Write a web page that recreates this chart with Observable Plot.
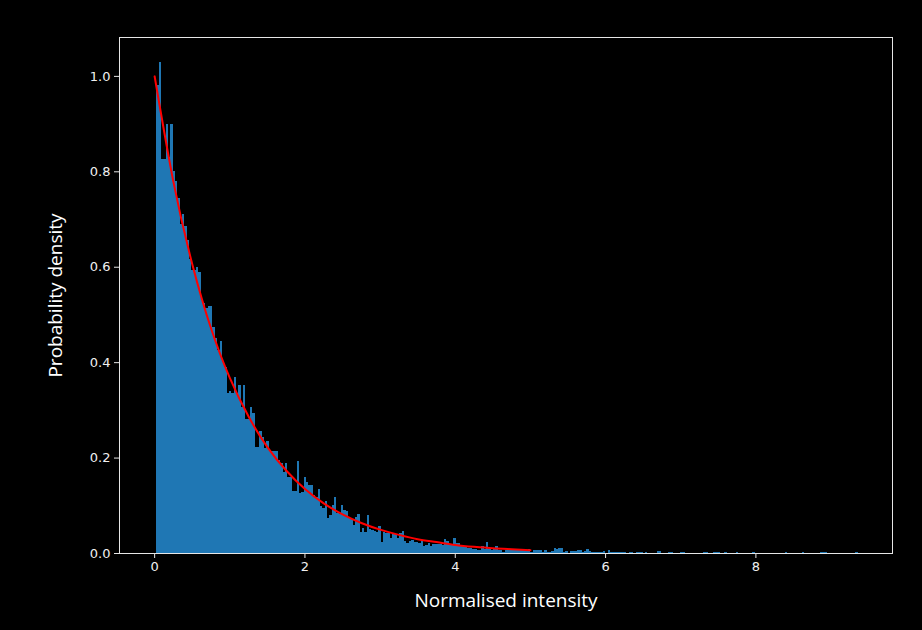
<!DOCTYPE html>
<html>
<head>
<meta charset="utf-8">
<script src="https://cdn.jsdelivr.net/npm/d3@7"></script>
<script src="https://cdn.jsdelivr.net/npm/@observablehq/plot@0.6"></script>
<style>
  html, body { margin: 0; padding: 0; background: #000; }
  #chart { width: 922px; height: 630px; }
</style>
</head>
<body>
<div id="chart"></div>
<script>
// Histogram: 300 equal-width bins (left edge of first bin and bin width)
const binStart = 0.03;
const binWidth = 0.0311;
const density = [
  0.98,1.03,0.825,0.825,0.90,0.83,0.90,0.80,0.78,0.745,
  0.69,0.71,0.686,0.655,0.617,0.594,0.594,0.60,0.588,0.53,
  0.525,0.513,0.517,0.517,0.473,0.45,0.425,0.444,0.40,0.39,
  0.335,0.34,0.335,0.368,0.335,0.352,0.307,0.352,0.28,0.28,
  0.307,0.293,0.222,0.222,0.256,0.243,0.22,0.235,0.214,0.214,
  0.214,0.214,0.195,0.189,0.17,0.188,0.16,0.16,0.13,0.13,
  0.193,0.125,0.128,0.159,0.149,0.142,0.142,0.121,0.118,0.134,
  0.099,0.094,0.109,0.074,0.0795,0.10,0.1165,0.083,0.081,0.0997,
  0.091,0.087,0.076,0.0705,0.058,0.075,0.081,0.0446,0.0516,0.0446,
  0.079,0.05,0.049,0.046,0.045,0.0565,0.0237,0.044,0.041,0.041,
  0.031,0.0425,0.04,0.031,0.042,0.047,0.026,0.022,0.025,0.027,
  0.024,0.024,0.02,0.025,0.014,0.017,0.02,0.014,0.019,0.019,
  0.018,0.019,0.017,0.029,0.025,0.017,0.019,0.031,0.022,0.02,
  0.017,0.013,0.0126,0.011,0.01,0.009,0.008,0.007,0.007,0.014,
  0.008,0.024,0.008,0.007,0.01,0.014,0.007,0.007,0.003,0.006,
  0.006,0.008,0.007,0.006,0.007,0.006,0.006,0.006,0.005,0.008,
  0.003,0.006,0.0055,0.0055,0.0055,0.003,0.006,0.002,0.003,0.005,
  0.0105,0.008,0.011,0.011,0.002,0.005,0,0.005,0.005,0.005,
  0.007,0.007,0.003,0.004,0.008,0.004,0.002,0.003,0.003,0.002,
  0.002,0.004,0,0.007,0.002,0.003,0.003,0.002,0.002,0.002,
  0.002,0,0.002,0.002,0,0.002,0.002,0.002,0,0.002,
  0.001,0.001,0,0,0.004,0.004,0,0,0,0.003,
  0.003,0,0,0,0.002,0.002,0.001,0,0,0,
  0,0,0,0,0.002,0.002,0,0,0.002,0.002,
  0.002,0,0,0.002,0,0,0,0,0.002,0,
  0,0,0,0,0,0.002,0,0,0,0,
  0,0,0,0,0,0,0,0,0,0.002,
  0,0,0,0,0,0,0.002,0,0,0,
  0,0,0,0,0.002,0.002,0.002,0,0,0,
  0,0,0,0,0,0,0,0,0,0.002
];

// Theoretical curve (red)
const curveX = [0,0.25,0.5,0.75,1,1.25,1.5,1.75,2,2.25,2.5,2.75,3,3.25,3.5,3.75,4,4.25,4.5,4.75,5];
const curveY = [1.0,0.779,0.607,0.472,0.368,0.287,0.223,0.174,0.135,0.105,0.082,0.064,0.050,0.039,0.030,0.024,0.018,0.014,0.011,0.009,0.007];

const xTicks = [0,2,4,6,8];
const yTicks = [0,0.2,0.4,0.6,0.8,1.0];
const xLabel = "Normalised intensity";
const yLabel = "Probability density";

const bins = density.map((d, i) => ({x1: binStart + i*binWidth, x2: binStart + (i+1)*binWidth, y: d}));
const curve = curveX.map((x, i) => ({x, y: curveY[i]}));

const plot = Plot.plot({
  width: 922,
  height: 630,
  marginLeft: 119,
  marginRight: 30,
  marginTop: 37,
  marginBottom: 77,
  style: {background: "#000", color: "#f0f0f0", fontFamily: "DejaVu Sans, sans-serif", fontSize: "13px"},
  x: {domain: [-0.4675, 9.8175], label: null},
  y: {domain: [0, 1.0815], label: null},
  marks: [
    Plot.rectY(bins, {x1: "x1", x2: "x2", y: "y", fill: "#1f77b4", shapeRendering: "crispEdges"}),
    Plot.line(curve, {x: "x", y: "y", stroke: "#ff0000", strokeWidth: 2, curve: "natural"}),
    Plot.frame({stroke: "#e6e6e6", strokeWidth: 1}),
    Plot.axisX({ticks: xTicks, tickFormat: d => String(d), tickSize: 5, tickPadding: 3, stroke: "#e6e6e6", fill: "#f0f0f0", label: null}),
    Plot.axisY({ticks: yTicks, tickFormat: d => d.toFixed(1), tickSize: 5, tickPadding: 4, stroke: "#e6e6e6", fill: "#f0f0f0", label: null}),
    Plot.text([xLabel], {frameAnchor: "bottom", dy: 47, text: d => d, fill: "#ffffff", fontSize: 19, fontFamily: "Open Sans, sans-serif", textAnchor: "middle", lineAnchor: "middle"}),
    Plot.text([yLabel], {frameAnchor: "left", dx: -64, rotate: -90, text: d => d, fill: "#ffffff", fontSize: 19, fontFamily: "Open Sans, sans-serif", textAnchor: "middle", lineAnchor: "middle"})
  ]
});
document.getElementById("chart").appendChild(plot);
</script>
</body>
</html>
